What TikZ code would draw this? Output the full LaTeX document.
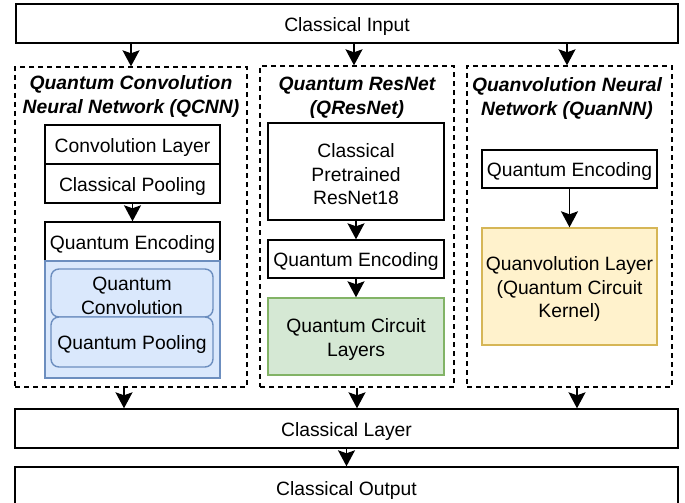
\documentclass[tikz,border=0pt]{standalone}
\usepackage{fontspec}
\setmainfont{Liberation Sans}
\usetikzlibrary{arrows.meta}
\definecolor{bluefill}{HTML}{DAE8FC}
\definecolor{bluestroke}{HTML}{6C8EBF}
\definecolor{greenfill}{HTML}{D5E8D4}
\definecolor{greenstroke}{HTML}{82B366}
\definecolor{yellowfill}{HTML}{FFF2CC}
\definecolor{yellowstroke}{HTML}{D6B656}
\tikzset{
  lbl/.style={font=\fontsize{19.3}{23.5}\selectfont, align=center, inner sep=0pt},
  box/.style={draw, line width=1.4pt, fill=white, rectangle, inner sep=0pt},
  dbox/.style={draw, line width=1.4pt, dash pattern=on 5pt off 4pt, rectangle, inner sep=0pt},
  ttl/.style={font=\fontsize{19.3}{24}\selectfont\bfseries\itshape, align=center, inner sep=0pt},
  arr/.style={line width=1.4pt, -{Stealth[length=16pt,width=17pt,inset=3pt]}},
}
\begin{document}
\begin{tikzpicture}[x=1pt,y=-1pt]
\useasboundingbox (0,0) rectangle (685,503);
% top and bottom
\node[box, minimum width=662pt, minimum height=39pt] (in) at (347,23.5) {};
\node[lbl] (inT) at ([yshift=-3pt]in.center) {Classical Input};
\node[box, minimum width=663pt, minimum height=39pt] (cl) at (346.5,428.5) {};
\node[lbl] (clT) at ([yshift=-3pt]cl.center) {Classical Layer};
\node[box, minimum width=663pt, minimum height=42pt] (out) at (346.5,488) {};
\node[lbl] (outT) at ([yshift=-3pt]out.center) {Classical Output};
% dashed groups
\node[dbox, minimum width=232pt, minimum height=320pt] (d1) at (131,227) {};
\node[dbox, minimum width=194pt, minimum height=321pt] (d2) at (357,226.5) {};
\node[dbox, minimum width=205pt, minimum height=321pt] (d3) at (569.5,226.5) {};
\node[ttl] (t1) at (131,97) {Quantum Convolution\\Neural Network (QCNN)};
\node[ttl] (t2) at (357,98) {Quantum ResNet\\(QResNet)};
\node[ttl] (t3) at (567,99) {Quanvolution Neural\\Network (QuanNN)};
% QCNN
\node[box, minimum width=175pt, minimum height=39pt] (conv) at (132.5,144.5) {};
\node[lbl] (convT) at ([yshift=-3pt]conv.center) {Convolution Layer};
\node[box, minimum width=175pt, minimum height=39pt] (pool) at (132.5,183.5) {};
\node[lbl] (poolT) at ([yshift=-3pt]pool.center) {Classical Pooling};
\node[box, minimum width=175pt, minimum height=39pt] (enc1) at (132.5,241.5) {};
\node[lbl] (enc1T) at ([yshift=-3pt]enc1.center) {Quantum Encoding};
\node[rectangle, draw=bluestroke, fill=bluefill, line width=1.4pt, minimum width=175pt, minimum height=117pt] (blue) at (132.5,319.5) {};
\node[draw=bluestroke, fill=bluefill, line width=1.4pt, rounded corners=8pt, minimum width=162pt, minimum height=48pt] (qconv) at (132,293) {};
\node[lbl] (qconvT) at ([yshift=-3pt]qconv.center) {Quantum\\Convolution};
\node[draw=bluestroke, fill=bluefill, line width=1.4pt, rounded corners=8pt, minimum width=162pt, minimum height=50pt] (qpool) at (132,342) {};
\node[lbl] (qpoolT) at ([yshift=-3pt]qpool.center) {Quantum Pooling};
% QResNet
\node[box, minimum width=176pt, minimum height=97pt] (res) at (356,171.5) {};
\node[lbl] (resT) at ([yshift=-3pt]res.center) {Classical\\Pretrained\\ResNet18};
\node[box, minimum width=176pt, minimum height=38pt] (enc2) at (356,259) {};
\node[lbl] (enc2T) at ([yshift=-3pt]enc2.center) {Quantum Encoding};
\node[draw=greenstroke, fill=greenfill, line width=1.4pt, minimum width=176pt, minimum height=77pt] (qcl) at (356,336.5) {};
\node[lbl] (qclT) at ([yshift=-3pt]qcl.center) {Quantum Circuit\\Layers};
% QuanNN
\node[box, minimum width=175pt, minimum height=38pt] (enc3) at (569.5,169) {};
\node[lbl] (enc3T) at ([yshift=-3pt]enc3.center) {Quantum Encoding};
\node[draw=yellowstroke, fill=yellowfill, line width=1.4pt, minimum width=175pt, minimum height=117pt] (quanv) at (569.5,286.5) {};
\node[lbl] (quanvT) at ([yshift=-3pt]quanv.center) {Quanvolution Layer\\(Quantum Circuit\\Kernel)};
% arrows
\draw[arr] (d1.north |- in.south) -- (d1.north);
\draw[arr] ([xshift=-3pt]d2.north |- in.south) -- ([xshift=-3pt]d2.north);
\draw[arr] ([xshift=-2.5pt]d3.north |- in.south) -- ([xshift=-2.5pt]d3.north);
\draw[arr] (pool.south) -- (enc1.north);
\draw[arr] (res.south) -- (enc2.north);
\draw[arr] (enc2.south) -- (qcl.north);
\draw[arr] (enc3.south) -- (quanv.north);
\draw[arr] ([xshift=-7pt]d1.south) -- ([xshift=-7pt]d1.south |- cl.north);
\draw[arr] (d2.south) -- (d2.south |- cl.north);
\draw[arr] ([xshift=7.5pt]d3.south) -- ([xshift=7.5pt]d3.south |- cl.north);
\draw[arr] (cl.south) -- (out.north);
\end{tikzpicture}
\end{document}
